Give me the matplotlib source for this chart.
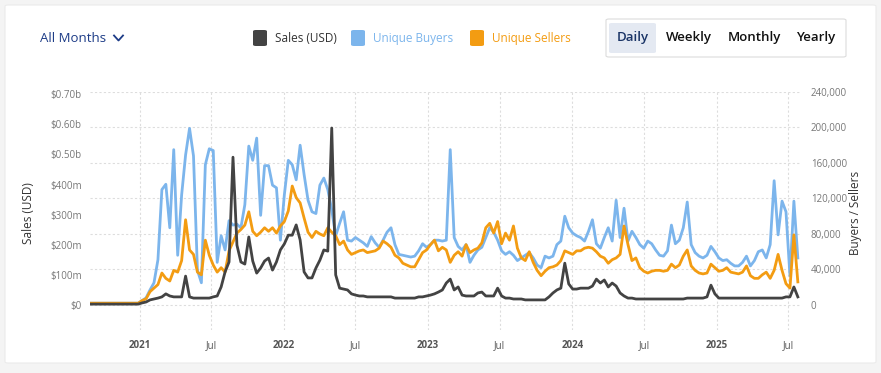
import pandas as pd
import matplotlib
matplotlib.use("Agg")
import matplotlib.pyplot as plt
from matplotlib.patches import FancyBboxPatch
from matplotlib.lines import Line2D

plt.rcParams['font.family'] = ['Open Sans', 'DejaVu Sans']

# daily chart, sampled every 10 days from the picture
start_date = "2020-08-30"

buyers_k = [
    2, 2, 2, 2, 2, 2, 2, 2, 2, 2,
    2, 2, 2, 5, 8, 17, 25, 51, 130, 136,
    87, 175, 56, 124, 169, 199, 168, 39, 25, 158,
    176, 174, 48, 78, 62, 95, 90, 91, 87, 113,
    179, 163, 188, 101, 157, 157, 135, 132, 73, 124,
    163, 158, 141, 180, 147, 118, 105, 103, 135, 143,
    130, 107, 78, 92, 105, 73, 72, 76, 73, 70,
    66, 77, 70, 65, 73, 82, 87, 68, 57, 56,
    55, 54, 55, 61, 69, 65, 68, 73, 73, 72,
    73, 175, 76, 66, 62, 68, 48, 56, 62, 65,
    76, 87, 82, 73, 61, 57, 60, 56, 50, 53,
    56, 59, 53, 45, 42, 55, 53, 55, 68, 72,
    100, 87, 81, 78, 76, 72, 83, 96, 69, 64,
    76, 87, 72, 118, 76, 109, 72, 83, 76, 68,
    64, 72, 69, 62, 56, 55, 61, 90, 69, 73,
    87, 116, 68, 59, 55, 53, 56, 66, 60, 53,
    50, 51, 47, 44, 44, 48, 55, 44, 50, 60,
    62, 53, 68, 140, 79, 117, 105, 33, 117, 53,
]

sellers_k = [
    2, 2, 2, 2, 2, 2, 2, 2, 2, 2,
    2, 2, 2, 5, 7, 15, 19, 23, 36, 30,
    27, 39, 37, 50, 96, 62, 57, 37, 34, 73,
    56, 45, 37, 42, 37, 61, 71, 81, 85, 90,
    105, 83, 78, 82, 87, 83, 87, 81, 89, 94,
    106, 134, 121, 115, 98, 82, 76, 83, 80, 78,
    87, 82, 78, 68, 72, 62, 57, 59, 61, 62,
    59, 60, 61, 64, 72, 69, 65, 56, 53, 47,
    45, 43, 43, 51, 59, 62, 68, 73, 61, 65,
    62, 48, 56, 60, 55, 68, 59, 62, 64, 70,
    87, 92, 81, 94, 69, 81, 73, 89, 64, 53,
    50, 60, 48, 39, 33, 38, 42, 43, 45, 50,
    61, 59, 57, 61, 61, 64, 65, 64, 60, 55,
    53, 47, 51, 53, 57, 89, 68, 50, 53, 42,
    38, 36, 38, 39, 39, 38, 39, 46, 42, 45,
    55, 62, 44, 39, 36, 35, 36, 46, 42, 38,
    39, 42, 37, 36, 35, 37, 44, 33, 30, 30,
    34, 37, 30, 39, 57, 39, 24, 19, 79, 26,
]

sales_musd = [
    3, 3, 3, 3, 3, 3, 3, 3, 3, 3,
    3, 3, 3, 7, 10, 17, 20, 23, 27, 37,
    30, 27, 27, 27, 96, 27, 23, 23, 23, 23,
    23, 27, 30, 60, 110, 143, 491, 199, 143, 136,
    226, 146, 106, 123, 146, 156, 116, 143, 183, 203,
    232, 232, 266, 216, 110, 90, 90, 123, 149, 183,
    179, 588, 100, 56, 53, 50, 37, 33, 30, 30,
    27, 27, 27, 27, 27, 27, 27, 23, 23, 23,
    23, 23, 23, 27, 27, 30, 33, 37, 43, 50,
    73, 86, 50, 60, 33, 30, 30, 30, 40, 43,
    30, 30, 30, 56, 30, 23, 23, 20, 20, 20,
    17, 17, 17, 17, 17, 17, 27, 40, 50, 56,
    139, 70, 53, 53, 56, 56, 56, 63, 86, 73,
    83, 60, 73, 63, 40, 30, 23, 23, 20, 20,
    20, 20, 20, 20, 20, 20, 20, 20, 20, 20,
    20, 23, 23, 23, 23, 23, 27, 66, 37, 23,
    23, 23, 23, 23, 23, 23, 23, 23, 23, 23,
    23, 23, 23, 23, 23, 23, 27, 27, 60, 27,
]

sales_ticks = [0, 100, 200, 300, 400, 500, 600, 700]
sales_labels = ["$0", "$100m", "$200m", "$300m", "$400m", "$0.50b", "$0.60b", "$0.70b"]
count_ticks = [0, 40, 80, 120, 160, 200, 240]
count_labels = ["0", "40,000", "80,000", "120,000", "160,000", "200,000", "240,000"]
x_ticks = ["2021-01-01", "2021-07-01", "2022-01-01", "2022-07-01", "2023-01-01",
           "2023-07-01", "2024-01-01", "2024-07-01", "2025-01-01", "2025-07-01"]
x_labels = ["2021", "Jul", "2022", "Jul", "2023", "Jul", "2024", "Jul", "2025", "Jul"]

n = min(len(buyers_k), len(sellers_k), len(sales_musd))
dates = pd.date_range(start_date, periods=n, freq="10D")

W, H = 881, 373
fig = plt.figure(figsize=(W / 100, H / 100), dpi=100, facecolor="#f4f4f4")


def fx(x):
    return x / W


def fy(y):
    return 1 - y / H


def box(x, y, w, h, fc, ec="none", r=4, lw=0.8, z=1):
    p = FancyBboxPatch((fx(x), fy(y + h)), w / W, h / H,
                       boxstyle="round,pad=0,rounding_size=%f" % (r / W),
                       transform=fig.transFigure, facecolor=fc, edgecolor=ec, lw=lw,
                       zorder=z)
    fig.patches.append(p)


# card behind everything
box(5, 5, 871, 358, "white", "#ebebeb", r=3, z=-5)

blue = "#7cb5ec"
orange = "#f39c12"
dark = "#434343"

ax1 = fig.add_axes([fx(90), 43 / H, 711 / W, 238.3 / H])
ax2 = ax1.twinx()
ax2.set_zorder(1)
ax1.set_zorder(2)
ax1.patch.set_visible(False)
ax2.patch.set_visible(False)

ax2.plot(dates, buyers_k[:n], color=blue, lw=2.0)
ax2.plot(dates, sellers_k[:n], color=orange, lw=2.0)
ax1.plot(dates, sales_musd[:n], color=dark, lw=2.0)

tick_dates = pd.to_datetime(x_ticks)
for d in tick_dates:
    ax2.axvline(d, color="#dddddd", lw=0.8, ls=(0, (2, 2)), zorder=0)
ax2.set_yticks(count_ticks, count_labels)
ax2.grid(axis="y", color="#dddddd", lw=0.8, ls=(0, (2, 2)))
ax2.set_axisbelow(True)

ax1.set_xlim(pd.Timestamp("2020-08-28"), pd.Timestamp("2025-08-02"))
ax1.set_ylim(-83, 708.6)
ax2.set_ylim(-28.2, 240.3)

ax1.set_yticks(sales_ticks, sales_labels)
ax1.set_xticks(tick_dates, x_labels)
for lab in ax1.get_xticklabels():
    if lab.get_text() != "Jul":
        lab.set_fontweight("bold")
        lab.set_color("#444444")

ax1.tick_params(axis="x", length=0, pad=7, labelsize=7, labelcolor="#555555")
ax1.tick_params(axis="y", length=0, pad=6, labelsize=7, labelcolor="#777777")
ax2.tick_params(axis="y", length=0, pad=7, labelsize=7, labelcolor="#777777")
for a in (ax1, ax2):
    for s in a.spines.values():
        s.set_visible(False)

fig.text(fx(28), fy(213), "Sales (USD)", rotation=90, ha="center", va="center",
         fontsize=8.5, color="#333333")
fig.text(fx(856), fy(213), "Buyers / Sellers", rotation=90, ha="center", va="center",
         fontsize=8.5, color="#333333")

# header
fig.text(fx(40), fy(38), "All Months", ha="left", va="center", fontsize=9.5, color="#1d3c87")
fig.lines.append(Line2D([fx(114), fx(118.5), fx(123)], [fy(35.5), fy(40.5), fy(35.5)],
                        transform=fig.transFigure, color="#1d3c87", lw=1.3))

legend_items = [("Sales (USD)", dark, "#333333", 253),
                ("Unique Buyers", blue, blue, 351),
                ("Unique Sellers", orange, orange, 470)]
for label, c, tc, x0 in legend_items:
    box(x0, 30, 14, 16, c, r=3)
    fig.text(fx(x0 + 22), fy(38.5), label, ha="left", va="center", fontsize=8.5, color=tc)

box(606, 19, 240, 38, "white", "#dcdcdc", r=3)
box(609, 23, 47, 30, "#e4e9f2", r=3)
buttons = [("Daily", 632.5, "#1a3466"), ("Weekly", 689, "#111111"),
           ("Monthly", 754.5, "#111111"), ("Yearly", 815.5, "#111111")]
for label, cx, c in buttons:
    fig.text(fx(cx), fy(38), label, ha="center", va="center", fontsize=9.5,
             color=c, fontweight="semibold")

fig.savefig("out.png", dpi=100, facecolor=fig.get_facecolor())
